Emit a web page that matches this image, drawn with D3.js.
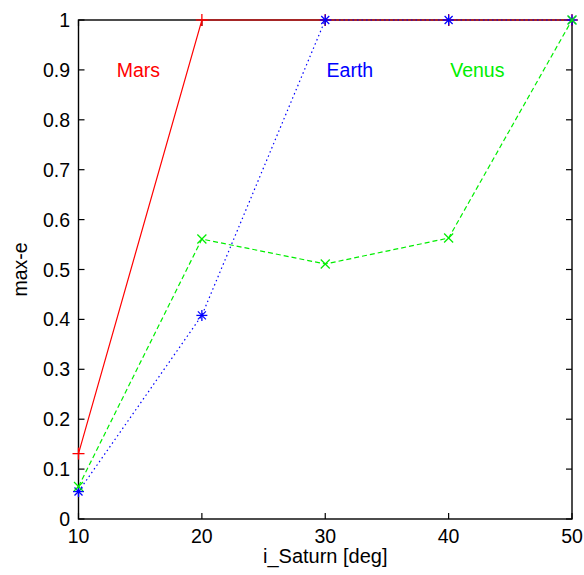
<!DOCTYPE html>
<html>
<head>
<meta charset="utf-8">
<script src="https://cdn.jsdelivr.net/npm/d3@7"></script>
<style>
  body { margin: 0; background: #fff; }
  text { font-family: "Liberation Sans", Arial, sans-serif; }
</style>
</head>
<body>
<div id="chart"></div>
<script>
const xValues = [10, 20, 30, 40, 50];
const mars = [0.131, 1, 1, 1, 1];
const earth = [0.055, 0.408, 1, 1, 1];
const venus = [0.065, 0.561, 0.511, 0.563, 1];
const xTicks = [10, 20, 30, 40, 50];
const yTicks = [0, 0.1, 0.2, 0.3, 0.4, 0.5, 0.6, 0.7, 0.8, 0.9, 1];

const series = [
  {name: "Mars", values: mars, color: "#ff0000", dash: null, marker: "plus", labelX: 14.86},
  {name: "Earth", values: earth, color: "#0000ff", dash: "1.5,3", marker: "star", labelX: 32.0},
  {name: "Venus", values: venus, color: "#00ee00", dash: "5,3", marker: "cross", labelX: 42.33}
];

function chart() {
  const width = 584, height = 575;
  const margin = {left: 78.5, right: 12, top: 20, bottom: 56};

  const svg = d3.select("#chart").append("svg")
      .attr("width", width)
      .attr("height", height);

  const x = d3.scaleLinear().domain([10, 50]).range([margin.left, width - margin.right]);
  const y = d3.scaleLinear().domain([0, 1]).range([height - margin.bottom, margin.top]);

  // frame
  svg.append("rect")
    .attr("x", x(10)).attr("y", y(1))
    .attr("width", x(50) - x(10)).attr("height", y(0) - y(1))
    .attr("fill", "none")
    .attr("stroke", "#000")
    .attr("stroke-width", 1.4);

  const tick = 6;
  const axes = svg.append("g").attr("stroke", "#000").attr("stroke-width", 1.2);

  // ticks pointing inward on all four sides
  xTicks.forEach(t => {
    axes.append("line").attr("x1", x(t)).attr("x2", x(t)).attr("y1", y(0)).attr("y2", y(0) - tick);
    axes.append("line").attr("x1", x(t)).attr("x2", x(t)).attr("y1", y(1)).attr("y2", y(1) + tick);
  });
  yTicks.forEach(t => {
    axes.append("line").attr("x1", x(10)).attr("x2", x(10) + tick).attr("y1", y(t)).attr("y2", y(t));
    axes.append("line").attr("x1", x(50)).attr("x2", x(50) - tick).attr("y1", y(t)).attr("y2", y(t));
  });

  svg.append("g").selectAll("text")
    .data(xTicks)
    .join("text")
      .attr("x", d => x(d))
      .attr("y", y(0) + 24)
      .attr("text-anchor", "middle")
      .attr("font-size", 19.5)
      .text(d => d);

  svg.append("g").selectAll("text")
    .data(yTicks)
    .join("text")
      .attr("x", x(10) - 8.5)
      .attr("y", d => y(d) + 7)
      .attr("text-anchor", "end")
      .attr("font-size", 19.5)
      .text(d => d);

  const line = d3.line().x((d, i) => x(xValues[i])).y(d => y(d));

  series.forEach(s => {
    svg.append("path")
      .attr("d", line(s.values))
      .attr("fill", "none")
      .attr("stroke", s.color)
      .attr("stroke-width", 1.2)
      .attr("stroke-dasharray", s.dash);

    const g = svg.append("g").attr("stroke", s.color).attr("stroke-width", 1.3);
    s.values.forEach((v, i) => {
      const cx = x(xValues[i]), cy = y(v);
      if (s.marker === "plus") {
        const r = 6;
        g.append("line").attr("x1", cx - r).attr("x2", cx + r).attr("y1", cy).attr("y2", cy);
        g.append("line").attr("x1", cx).attr("x2", cx).attr("y1", cy - r).attr("y2", cy + r);
      } else if (s.marker === "cross") {
        const r = 4.5;
        g.append("line").attr("x1", cx - r).attr("x2", cx + r).attr("y1", cy - r).attr("y2", cy + r);
        g.append("line").attr("x1", cx - r).attr("x2", cx + r).attr("y1", cy + r).attr("y2", cy - r);
      } else {
        const r = 5.5, d = 4;
        g.append("line").attr("x1", cx - r).attr("x2", cx + r).attr("y1", cy).attr("y2", cy);
        g.append("line").attr("x1", cx).attr("x2", cx).attr("y1", cy - r).attr("y2", cy + r);
        g.append("line").attr("x1", cx - d).attr("x2", cx + d).attr("y1", cy - d).attr("y2", cy + d);
        g.append("line").attr("x1", cx - d).attr("x2", cx + d).attr("y1", cy + d).attr("y2", cy - d);
      }
    });

    svg.append("text")
      .attr("x", x(s.labelX))
      .attr("y", y(0.886))
      .attr("text-anchor", "middle")
      .attr("font-size", 19.5)
      .attr("fill", s.color)
      .text(s.name);
  });

  svg.append("text")
    .attr("x", (x(10) + x(50)) / 2)
    .attr("y", 563)
    .attr("text-anchor", "middle")
    .attr("font-size", 20)
    .text("i_Saturn [deg]");

  svg.append("text")
    .attr("transform", `translate(27,${(y(0) + y(1)) / 2}) rotate(-90)`)
    .attr("text-anchor", "middle")
    .attr("font-size", 19.5)
    .text("max-e");
}

chart();
</script>
</body>
</html>
